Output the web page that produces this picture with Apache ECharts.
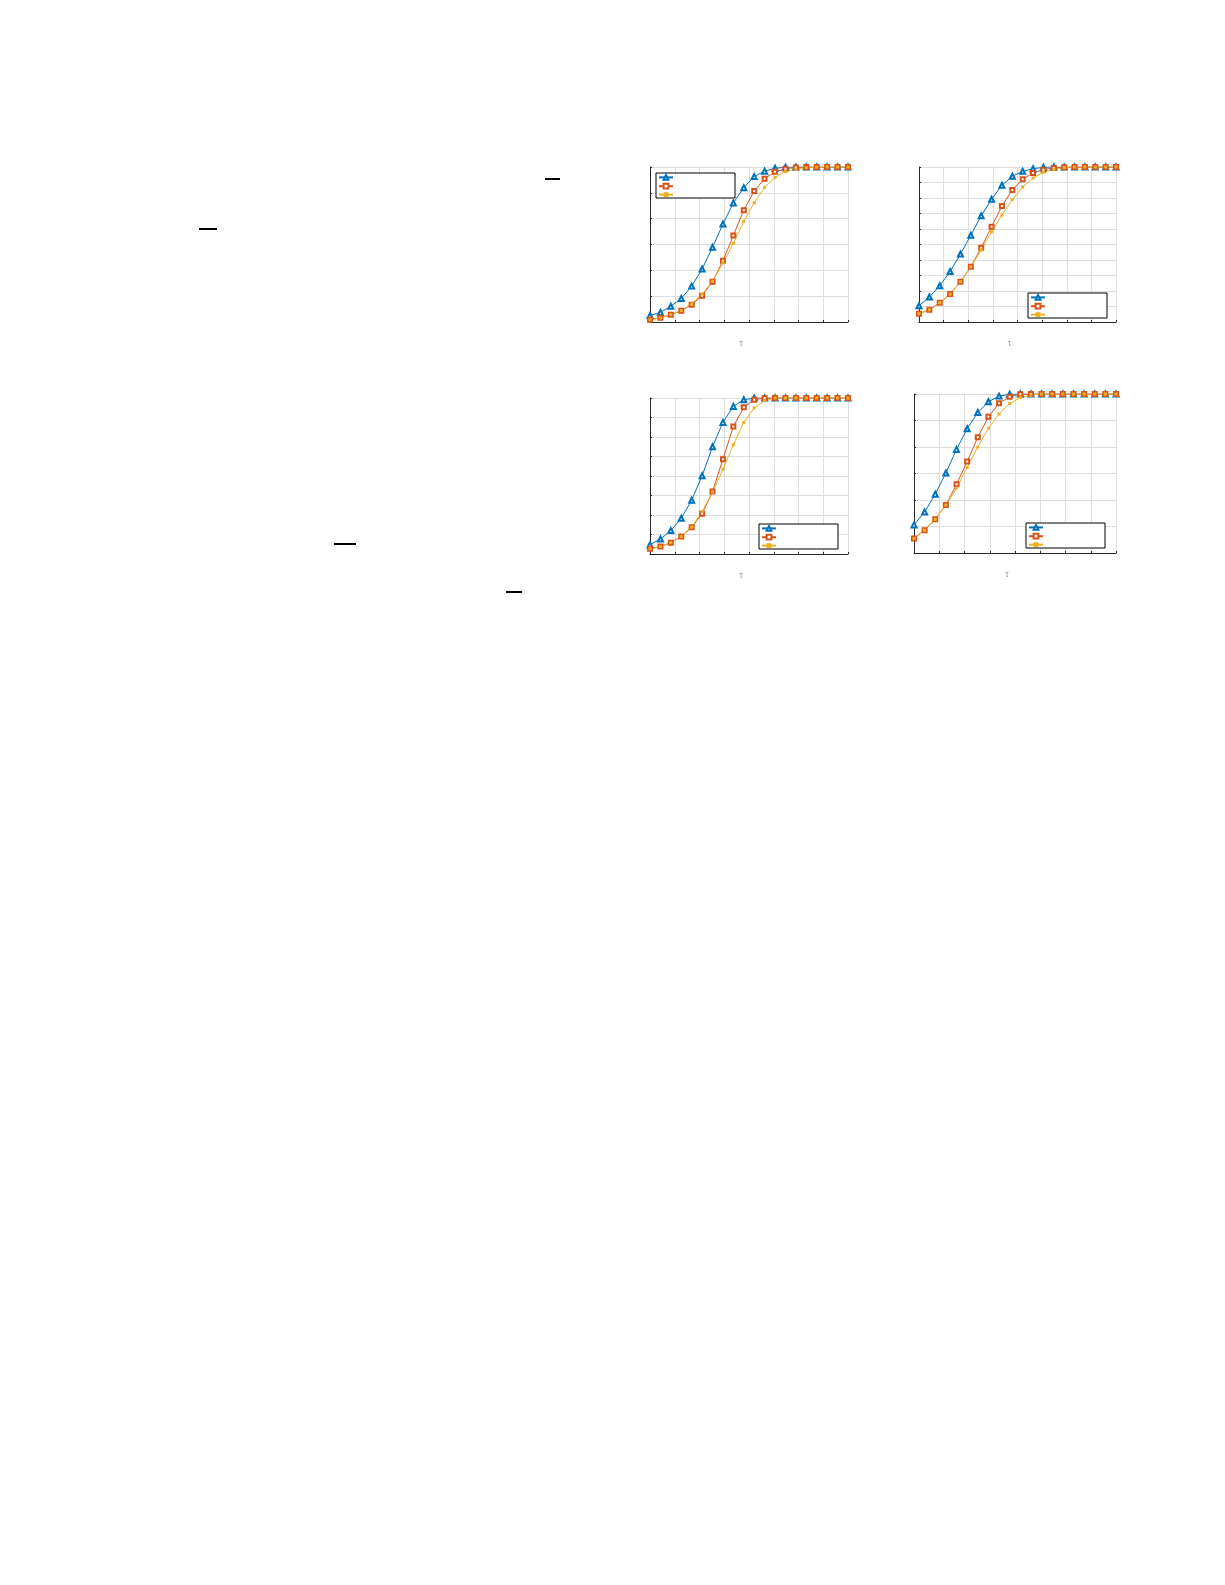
<!DOCTYPE html>
<html>
<head>
<meta charset="utf-8">
<script src="https://cdn.jsdelivr.net/npm/echarts@6/dist/echarts.min.js"></script>
<style>
  html, body { margin: 0; padding: 0; background: #fff; }
  #main { width: 1225px; height: 1585px; }
</style>
</head>
<body>
<div id="main"></div>
<script>
// x positions shared by all four panels (20 points)
var xs = [0, 1, 2, 3, 4, 5, 6, 7, 8, 9, 10, 11, 12, 13, 14, 15, 16, 17, 18, 19];

// panel 1 (top left)
var p1Blue   = [0.425, 0.437, 0.461, 0.491, 0.539, 0.605, 0.689, 0.779, 0.861, 0.920, 0.963, 0.984, 0.995, 0.999, 1, 1, 1, 1, 1, 1];
var p1Red    = [0.409, 0.416, 0.428, 0.444, 0.467, 0.502, 0.556, 0.637, 0.735, 0.833, 0.907, 0.955, 0.982, 0.993, 0.998, 1, 1, 1, 1, 1];
var p1Yellow = [0.409, 0.416, 0.428, 0.444, 0.470, 0.508, 0.558, 0.629, 0.704, 0.789, 0.862, 0.921, 0.960, 0.982, 0.992, 0.998, 0.999, 1, 1, 1];

// panel 2 (top right)
var p2Blue   = [0.105, 0.161, 0.234, 0.326, 0.438, 0.560, 0.685, 0.792, 0.882, 0.940, 0.972, 0.989, 0.998, 1, 1, 1, 1, 1, 1, 1];
var p2Red    = [0.054, 0.079, 0.124, 0.180, 0.260, 0.356, 0.479, 0.614, 0.749, 0.852, 0.921, 0.961, 0.983, 0.994, 0.998, 1, 1, 1, 1, 1];
var p2Yellow = [0.054, 0.079, 0.124, 0.180, 0.260, 0.356, 0.464, 0.582, 0.689, 0.790, 0.871, 0.929, 0.966, 0.985, 0.996, 1, 1, 1, 1, 1];

// panel 3 (bottom left)
var p3Blue   = [0.248, 0.277, 0.320, 0.383, 0.476, 0.601, 0.750, 0.875, 0.957, 0.991, 1, 1, 1, 1, 1, 1, 1, 1, 1, 1];
var p3Red    = [0.227, 0.238, 0.258, 0.290, 0.337, 0.406, 0.520, 0.686, 0.854, 0.952, 0.991, 1, 1, 1, 1, 1, 1, 1, 1, 1];
var p3Yellow = [0.227, 0.238, 0.258, 0.290, 0.338, 0.418, 0.517, 0.634, 0.760, 0.875, 0.949, 0.986, 1, 1, 1, 1, 1, 1, 1, 1];

// panel 4 (bottom right)
var p4Blue   = [0.506, 0.555, 0.622, 0.702, 0.791, 0.869, 0.930, 0.971, 0.992, 0.999, 1, 1, 1, 1, 1, 1, 1, 1, 1, 1];
var p4Red    = [0.455, 0.486, 0.527, 0.581, 0.659, 0.745, 0.837, 0.914, 0.965, 0.990, 0.999, 1, 1, 1, 1, 1, 1, 1, 1, 1];
var p4Yellow = [0.455, 0.486, 0.527, 0.581, 0.645, 0.723, 0.800, 0.871, 0.925, 0.964, 0.986, 0.996, 1, 1, 1, 1, 1, 1, 1, 1];

// y ranges per panel (tick labels not legible in the source)
var yMins = [0.4, 0, 0.2, 0.4];
var xName = 'τ';

var panels = [
    {blue: p1Blue, red: p1Red, yellow: p1Yellow},
    {blue: p2Blue, red: p2Red, yellow: p2Yellow},
    {blue: p3Blue, red: p3Red, yellow: p3Yellow},
    {blue: p4Blue, red: p4Red, yellow: p4Yellow}
];

var grids = [
    {left: 650, top: 167, width: 198, height: 155},
    {left: 919, top: 167, width: 197, height: 155},
    {left: 650, top: 398, width: 198, height: 156},
    {left: 914, top: 394, width: 202, height: 159}
];
var legendPos = [
    {left: 656, top: 173},
    {left: 1028, top: 293},
    {left: 759, top: 524},
    {left: 1026, top: 523}
];

function pairs(ys) {
    var out = [];
    for (var i = 0; i < xs.length; i++) out.push([xs[i], ys[i]]);
    return out;
}

var chart = echarts.init(document.getElementById('main'), null, {renderer: 'canvas'});

var option = {
    animation: false,
    backgroundColor: '#fff',
    grid: [],
    xAxis: [],
    yAxis: [],
    legend: [],
    series: [],
    graphic: [
        // overbars left over from the surrounding text
        {type: 'rect', shape: {x: 545, y: 178, width: 15, height: 2}, style: {fill: '#000'}},
        {type: 'rect', shape: {x: 199, y: 228, width: 18, height: 2}, style: {fill: '#000'}},
        {type: 'rect', shape: {x: 334, y: 543, width: 22, height: 2}, style: {fill: '#000'}},
        {type: 'rect', shape: {x: 506, y: 591, width: 16, height: 2}, style: {fill: '#000'}}
    ]
};

for (var g = 0; g < 4; g++) {
    option.grid.push(grids[g]);
    option.xAxis.push({
        gridIndex: g,
        type: 'value',
        min: 0,
        max: 19,
        interval: 2.375,
        name: xName,
        nameLocation: 'middle',
        nameGap: 17,
        nameTextStyle: {color: '#999', fontSize: 9, padding: [0, 16, 0, 0]},
        axisLine: {lineStyle: {color: '#262626', width: 1}},
        axisTick: {inside: true, length: 2, lineStyle: {color: '#262626'}},
        axisLabel: {show: false},
        splitLine: {show: true, lineStyle: {color: '#dedede', width: 1}}
    });
    option.yAxis.push({
        gridIndex: g,
        type: 'value',
        min: yMins[g],
        max: 1,
        interval: 0.1,
        axisLine: {show: true, lineStyle: {color: '#262626', width: 1}},
        axisTick: {show: true, inside: true, length: 2, lineStyle: {color: '#262626'}},
        axisLabel: {show: false},
        splitLine: {show: true, lineStyle: {color: '#dedede', width: 1}}
    });
    option.legend.push({
        left: legendPos[g].left,
        top: legendPos[g].top,
        orient: 'vertical',
        data: ['A', 'B', 'C'],
        itemWidth: 14,
        itemHeight: 6,
        itemGap: 2,
        padding: [1, 61, 1, 2],
        borderColor: '#000',
        borderWidth: 1,
        backgroundColor: '#fff',
        formatter: function () { return ''; },
        textStyle: {fontSize: 1},
        selectedMode: false
    });
    var p = panels[g];
    option.series.push({
        name: 'A', type: 'line', xAxisIndex: g, yAxisIndex: g,
        data: pairs(p.blue),
        symbol: 'emptyTriangle', symbolSize: 5,
        lineStyle: {color: '#0072BD', width: 1},
        itemStyle: {color: '#0072BD', borderWidth: 0.8}
    });
    option.series.push({
        name: 'B', type: 'line', xAxisIndex: g, yAxisIndex: g,
        data: pairs(p.red),
        symbol: 'emptyRect', symbolSize: 4,
        lineStyle: {color: '#D95319', width: 1},
        itemStyle: {color: '#D95319', borderWidth: 0.8}
    });
    option.series.push({
        name: 'C', type: 'line', xAxisIndex: g, yAxisIndex: g,
        data: pairs(p.yellow),
        symbol: 'rect', symbolSize: 3,
        lineStyle: {color: '#EDB120', width: 1},
        itemStyle: {color: '#EDB120'}
    });
}

chart.setOption(option);
</script>
</body>
</html>
